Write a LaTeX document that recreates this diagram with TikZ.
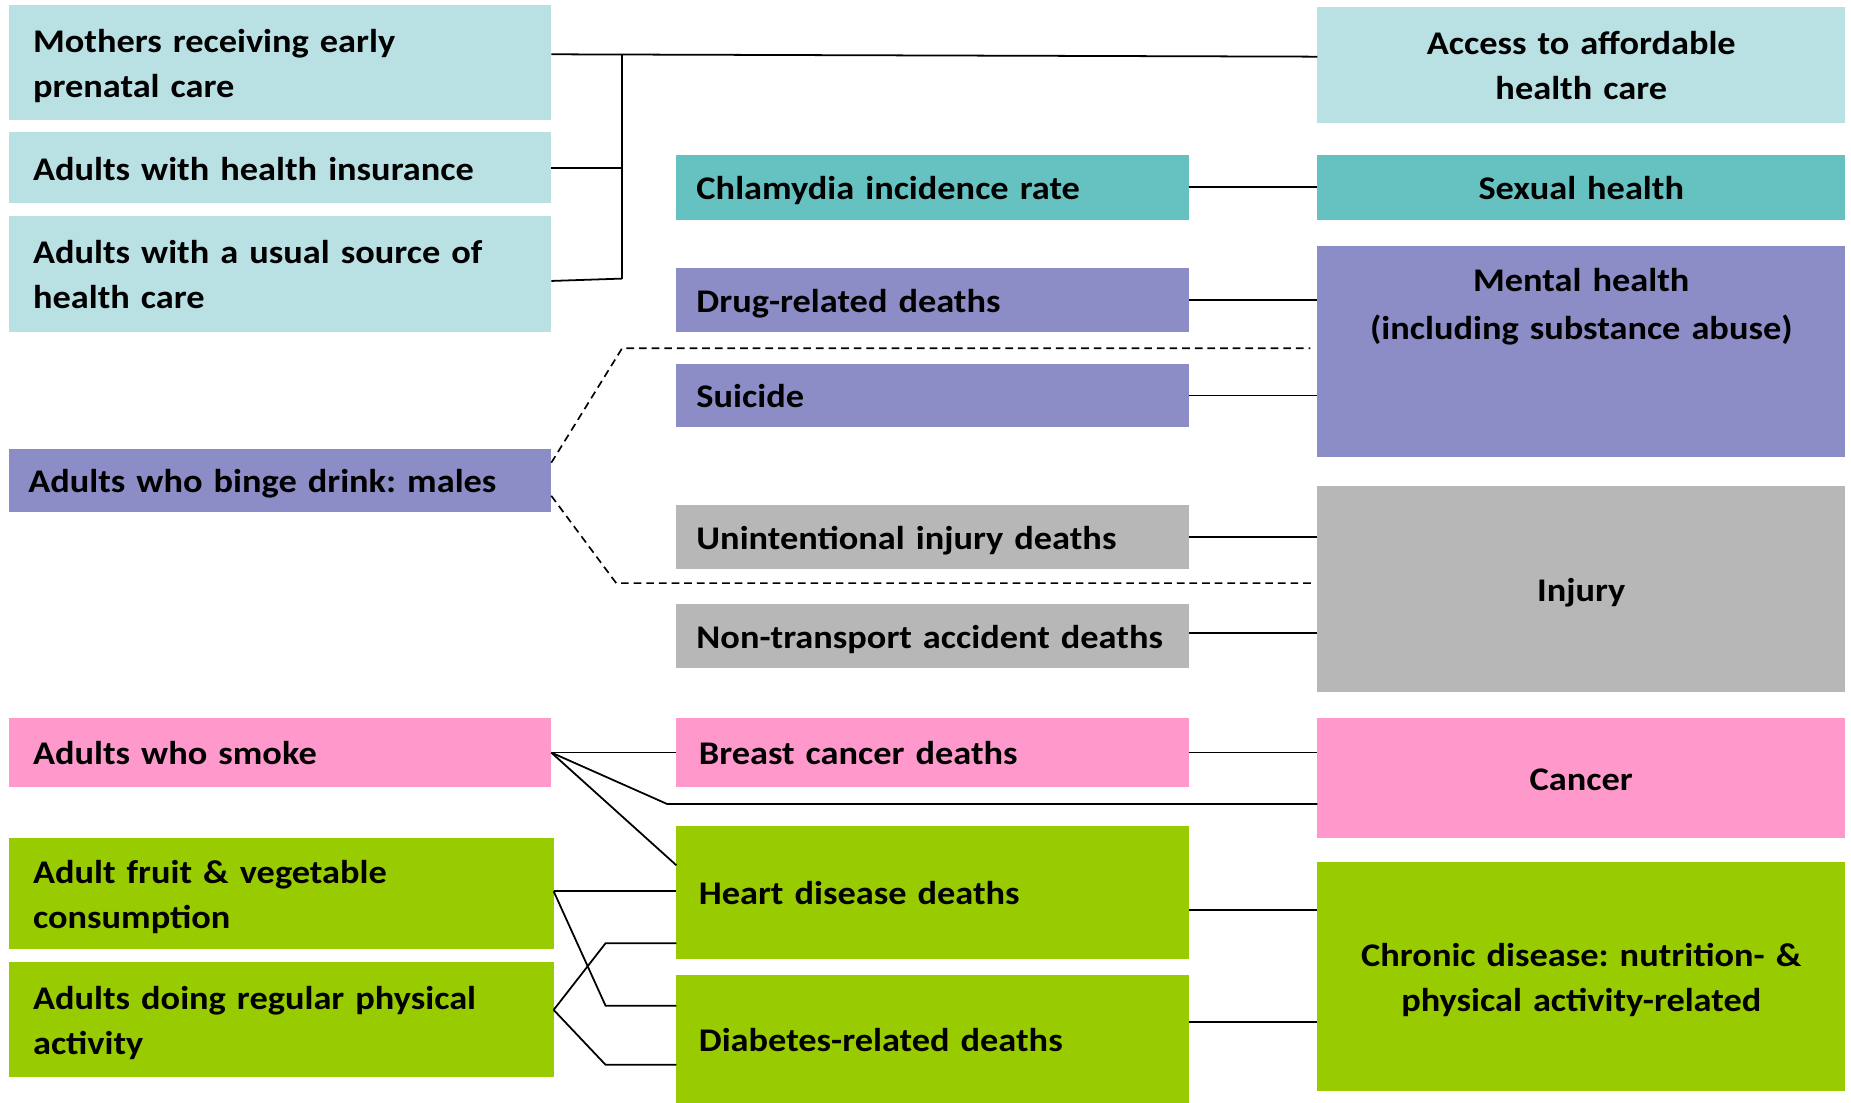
\documentclass[tikz,border=0pt]{standalone}
\usepackage{fontspec}
\setmainfont{Carlito}[FakeStretch=1.1]
\frenchspacing
\definecolor{cLight}{HTML}{B9E0E3}
\definecolor{cTeal}{HTML}{66C2C1}
\definecolor{cPurple}{HTML}{8C8CC6}
\definecolor{cGray}{HTML}{B7B7B7}
\definecolor{cPink}{HTML}{FF99CC}
\definecolor{cGreen}{HTML}{99CC00}
\begin{document}
\begin{tikzpicture}[x=1pt,y=-1pt,
  box/.style={draw=none, inner ysep=0pt, outer sep=0pt, anchor=north west,
    font=\bfseries\fontsize{28}{38}\selectfont, text=black,
    execute at begin node={\rule{0pt}{29pt}},
    execute at end node={\rule[-8pt]{0pt}{8pt}}},
  lbox/.style={box, align=left, inner xsep=20pt, text width=419pt},
  mbox/.style={box, align=left, inner xsep=17pt, text width=400pt},
  rbox/.style={box, align=center, minimum width=447pt, text width=427pt, inner xsep=10pt},
  conn/.style={draw=black, line width=1.5pt},
  dconn/.style={draw=black, line width=1.4pt, dash pattern=on 6.5pt off 4.2pt}]
\useasboundingbox (0,0) rectangle (1568,934);
\fill[white] (0,0) rectangle (1568,934);

% left column
\node[lbox, fill=cLight, minimum height=98pt] (mothers) at (8,4) {Mothers receiving early\\prenatal care};
\node[lbox, fill=cLight, minimum height=60pt] (insur) at (8,112) {\mbox{Adults with health insurance}};
\node[lbox, fill=cLight, minimum height=98pt] (usual) at (8,183) {\mbox{Adults with a usual source of}\\health care};
\node[lbox, fill=cPurple, minimum height=54pt, inner xsep=16pt, text width=427pt] (binge) at (8,380) {\mbox{Adults who binge drink: males}};
\node[lbox, fill=cPink, minimum height=59pt] (smoke) at (8,608) {Adults who smoke};
\node[lbox, fill=cGreen, minimum height=94pt, text width=421pt] (fruit) at (8,710) {Adult fruit \& vegetable\\consumption};
\node[lbox, fill=cGreen, minimum height=97pt, text width=421pt] (phys) at (8,815) {\mbox{Adults doing regular physical}\\activity};

% middle column
\node[mbox, fill=cTeal, minimum height=55pt] (chlam) at (573,131) {\mbox{Chlamydia incidence rate}};
\node[mbox, fill=cPurple, minimum height=54pt] (drug) at (573,227) {Drug-related deaths};
\node[mbox, fill=cPurple, minimum height=54pt] (suicide) at (573,308) {Suicide};
\node[mbox, fill=cGray, minimum height=54pt] (unint) at (573,428) {\mbox{Unintentional injury deaths}};
\node[mbox, fill=cGray, minimum height=54pt] (nontr) at (573,512) {\mbox{Non-transport accident deaths}};
\node[mbox, fill=cPink, minimum height=59pt, inner xsep=19pt, text width=396pt] (breast) at (573,608) {Breast cancer deaths};
\node[mbox, fill=cGreen, minimum height=112pt, inner xsep=19pt, text width=396pt] (heart) at (573,700) {Heart disease deaths};
\node[mbox, fill=cGreen, minimum height=108pt, inner xsep=19pt, text width=396pt] (diab) at (573,826) {Diabetes-related deaths};

% right column
\node[rbox, fill=cLight, minimum height=98pt] (access) at (1116,6) {Access to affordable\\health care};
\node[rbox, fill=cTeal, minimum height=55pt] (sexual) at (1116,131) {Sexual health};
\node[rbox, fill=cPurple, minimum height=179pt] (mental) at (1116,208) {};
\node[box, align=center, text width=427pt, inner sep=0pt, anchor=north, font=\bfseries\fontsize{28}{41}\selectfont] (mentaltxt) at (1339.5,218) {Mental health\\(including substance abuse)};
\node[rbox, fill=cGray, minimum height=174pt] (injury) at (1116,412) {Injury};
\node[rbox, fill=cPink, minimum height=102pt] (cancer) at (1116,608) {Cancer};
\node[rbox, fill=cGreen, minimum height=194pt] (chronic) at (1116,730) {Chronic disease: nutrition- \&\\physical activity-related};

% access connectors
\coordinate (brtop) at (527,47);
\coordinate (brbot) at (527,236);
\draw[conn] ([yshift=7pt]mothers.east) -- ([yshift=7pt]access.west);
\draw[conn] (brtop) -- (brbot);
\draw[conn] (insur.east) -- (insur.east -| brtop);
\draw[conn] ([yshift=-6pt]usual.east) -- (brbot);

% middle to right
\draw[conn] (chlam.east) -- (chlam.east -| sexual.west);
\draw[conn] (drug.east) -- (drug.east -| mental.west);
\draw[conn] (suicide.east) -- (suicide.east -| mental.west);
\draw[conn] (unint.east) -- (unint.east -| injury.west);
\draw[conn] ([yshift=3pt]nontr.east) -- ([yshift=3pt]nontr.east -| injury.west);
\draw[conn] (breast.east) -- (breast.east -| cancer.west);
\draw[conn] ([yshift=-15pt]heart.east) -- ([yshift=-15pt]heart.east -| chronic.west);
\draw[conn] ([yshift=14pt]diab.east) -- ([yshift=14pt]diab.east -| chronic.west);

% binge drinking dashed
\coordinate (d1) at (527,295);
\coordinate (d2) at (1110,295);
\coordinate (d3) at (522,494);
\coordinate (d4) at (1113,494);
\draw[dconn] ([yshift=15pt]binge.east) -- (d1) -- (d2);
\draw[dconn] ([yshift=-13pt]binge.east) -- (d3) -- (d4);

% smoking
\coordinate (s1) at (565,681);
\draw[conn] (smoke.east) -- (smoke.east -| breast.west);
\draw[conn] (smoke.east) -- (s1) -- (s1 -| cancer.west);
\draw[conn] (smoke.east) -- ([yshift=23pt]heart.west);

% fruit & vegetables
\coordinate (f1) at (513,852);
\draw[conn] ([yshift=2pt]fruit.east) -- ([yshift=2pt]fruit.east -| heart.west);
\draw[conn] ([yshift=2pt]fruit.east) -- (f1) -- (f1 -| diab.west);

% physical activity
\coordinate (p1) at (513,799);
\coordinate (p2) at (513,902);
\draw[conn] ([yshift=8pt]phys.east) -- (p1) -- (p1 -| heart.west);
\draw[conn] ([yshift=8pt]phys.east) -- (p2) -- (p2 -| diab.west);
\end{tikzpicture}
\end{document}
